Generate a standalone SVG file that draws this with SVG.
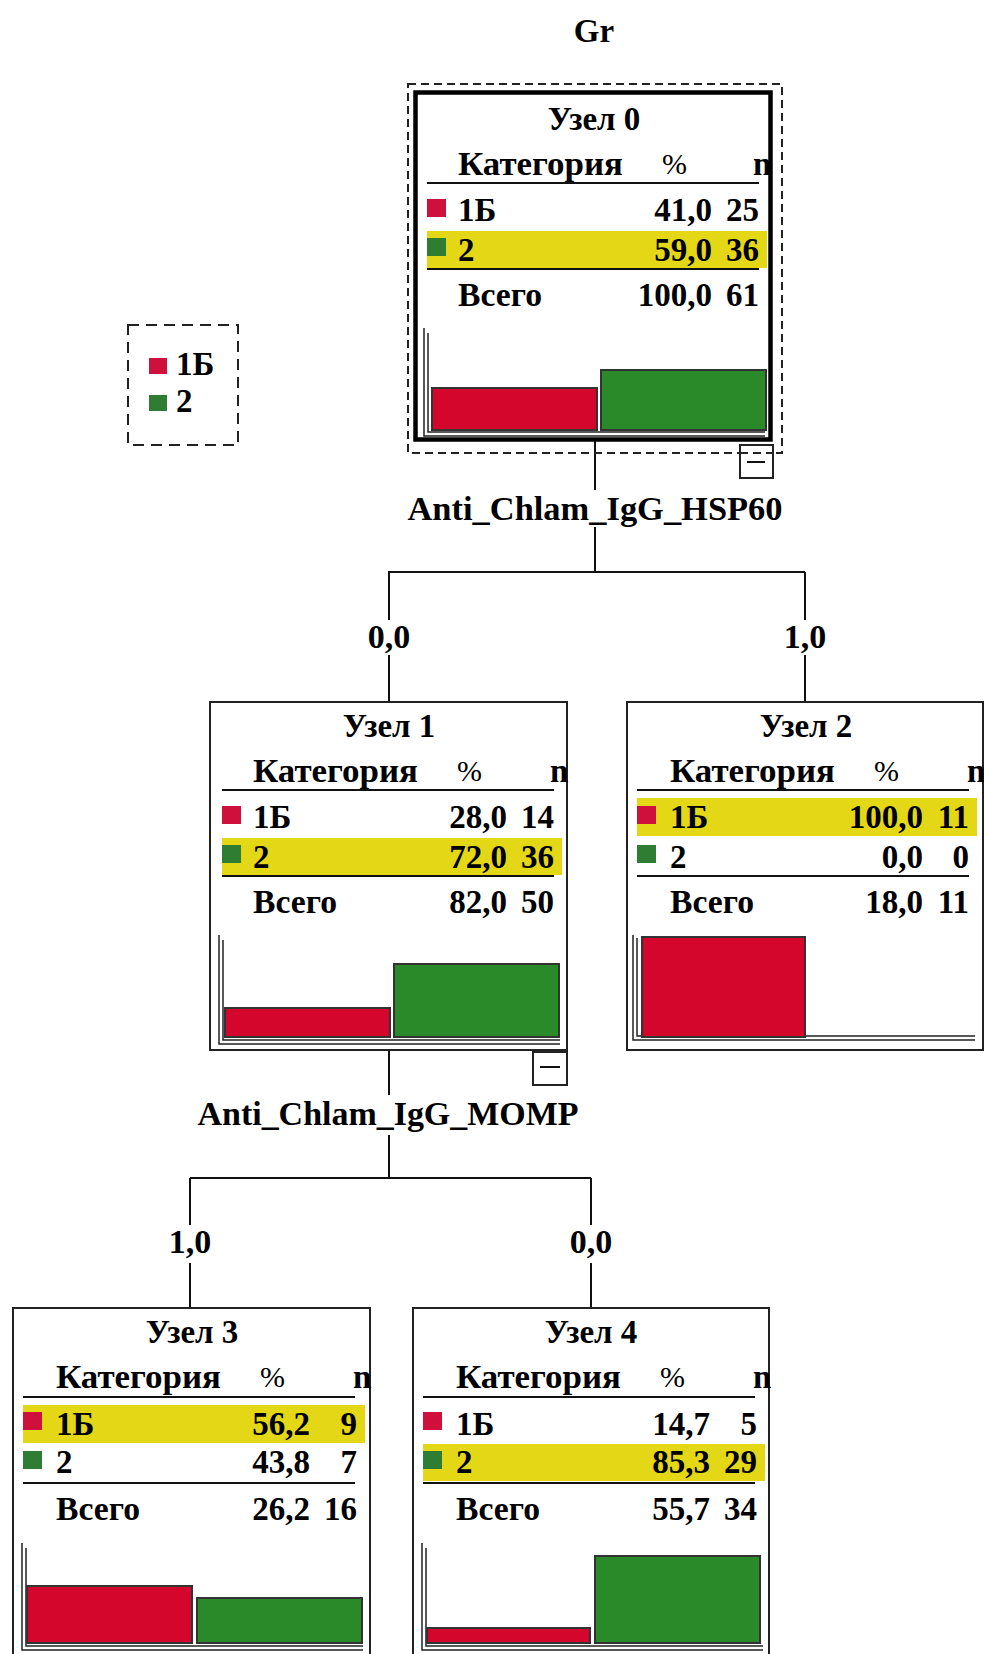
<svg xmlns="http://www.w3.org/2000/svg" width="984" height="1654" viewBox="0 0 984 1654">
<style>
text{font-family:"Liberation Serif","Times New Roman",serif;font-weight:bold;fill:#000;font-size:33px}
.lbl{font-size:34px}
.mid{text-anchor:middle}
.end{text-anchor:end}
.pc{font-weight:normal;font-size:30px}
.box{fill:#fff;stroke:#222;stroke-width:2}
.rule{stroke:#111;stroke-width:2}
.band{fill:#e4d816}
.sqr{fill:#d0103c}
.sqg{fill:#2e7d32}
.barr{fill:#d4062c;stroke:#333;stroke-width:2}
.barg{fill:#2a8a2a;stroke:#333;stroke-width:2}
.frame{fill:none;stroke:#222;stroke-width:1.5}
.conn{fill:none;stroke:#111;stroke-width:2}
.dash{fill:none;stroke:#222;stroke-width:2;stroke-dasharray:8 5}
.ldash{fill:none;stroke:#222;stroke-width:2;stroke-dasharray:11 7}
.btn{fill:#fff;stroke:#222;stroke-width:2}
</style>
<rect width="984" height="1654" fill="#fff"/>
<text x="594" y="42" class="mid">Gr</text>

<g id="legend">
<rect x="128" y="325" width="110" height="120" class="ldash"/>
<rect x="149" y="358" width="18" height="16" class="sqr"/>
<text x="176" y="375" font-size="31">1Б</text>
<rect x="149" y="395" width="18" height="16" class="sqg"/>
<text x="176" y="412" font-size="31">2</text>
</g>

<g id="connectors">
<path class="conn" d="M595,440V490M595,527V572M388,572H805M389,572V620M389,655V702M805,572V620M805,655V702"/>
<path class="conn" d="M389,1050V1095M389,1135V1178M190,1178H591M190,1178V1225M190,1263V1308M591,1178V1225M591,1263V1308"/>
<text x="595" y="520" class="lbl mid" textLength="375" lengthAdjust="spacingAndGlyphs">Anti_Chlam_IgG_HSP60</text>
<text x="389" y="648" class="lbl mid">0,0</text>
<text x="805" y="648" class="lbl mid">1,0</text>
<text x="388" y="1125" class="lbl mid" textLength="381" lengthAdjust="spacingAndGlyphs">Anti_Chlam_IgG_MOMP</text>
<text x="190" y="1253" class="lbl mid">1,0</text>
<text x="591" y="1253" class="lbl mid">0,0</text>
</g>

<g id="node0" transform="translate(415,95)">
<rect x="0.5" y="-2.5" width="355" height="347" fill="#fff" stroke="#000" stroke-width="4.5"/>
<text x="179" y="35" class="mid">Узел 0</text>
<text x="43" y="80" textLength="165" lengthAdjust="spacingAndGlyphs">Категория</text>
<text x="247" y="79" class="pc">%</text>
<text x="338" y="80">n</text>
<line x1="12" y1="88" x2="344" y2="88" class="rule"/>
<rect x="12" y="136" width="340" height="37" class="band"/>
<rect x="12" y="104" width="19" height="18" class="sqr"/>
<text x="43" y="126">1Б</text><text x="297" y="126" class="end">41,0</text><text x="344" y="126" class="end">25</text>
<rect x="12" y="143" width="19" height="18" class="sqg"/>
<text x="43" y="166">2</text><text x="297" y="166" class="end">59,0</text><text x="344" y="166" class="end">36</text>
<line x1="12" y1="174" x2="344" y2="174" class="rule"/>
<text x="43" y="211" textLength="84" lengthAdjust="spacingAndGlyphs">Всего</text><text x="297" y="211" class="end">100,0</text><text x="344" y="211" class="end">61</text>
<path class="frame" d="M9,233V341H350M13,238V337H350"/>
<rect x="17" y="293" width="165" height="42" class="barr"/>
<rect x="186" y="275" width="165" height="60" class="barg"/>
<rect x="-7" y="-11" width="374" height="369" class="dash"/>
<rect x="325" y="350" width="33" height="33" class="btn"/>
<line x1="332" y1="367" x2="350" y2="367" class="rule"/>
<line x1="325" y1="358" x2="358" y2="358" class="dash"/>
</g>

<g id="node1" transform="translate(210,702)">
<rect x="0" y="0" width="357" height="348" class="box"/>
<text x="179" y="35" class="mid">Узел 1</text>
<text x="43" y="80" textLength="165" lengthAdjust="spacingAndGlyphs">Категория</text>
<text x="247" y="79" class="pc">%</text>
<text x="340" y="80">n</text>
<line x1="12" y1="88" x2="344" y2="88" class="rule"/>
<rect x="12" y="136" width="340" height="37" class="band"/>
<rect x="12" y="104" width="19" height="18" class="sqr"/>
<text x="43" y="126">1Б</text><text x="297" y="126" class="end">28,0</text><text x="344" y="126" class="end">14</text>
<rect x="12" y="143" width="19" height="18" class="sqg"/>
<text x="43" y="166">2</text><text x="297" y="166" class="end">72,0</text><text x="344" y="166" class="end">36</text>
<line x1="12" y1="174" x2="344" y2="174" class="rule"/>
<text x="43" y="211" textLength="84" lengthAdjust="spacingAndGlyphs">Всего</text><text x="297" y="211" class="end">82,0</text><text x="344" y="211" class="end">50</text>
<path class="frame" d="M9,233V342H350M13,238V338H350"/>
<rect x="15" y="306" width="165" height="29" class="barr"/>
<rect x="184" y="262" width="165" height="73" class="barg"/>
<rect x="323" y="350" width="34" height="33" class="btn"/>
<line x1="330" y1="365" x2="350" y2="365" class="rule"/>
</g>

<g id="node2" transform="translate(627,702)">
<rect x="0" y="0" width="356" height="348" class="box"/>
<text x="179" y="35" class="mid">Узел 2</text>
<text x="43" y="80" textLength="165" lengthAdjust="spacingAndGlyphs">Категория</text>
<text x="247" y="79" class="pc">%</text>
<text x="340" y="80">n</text>
<line x1="10" y1="88" x2="342" y2="88" class="rule"/>
<rect x="10" y="96" width="340" height="38" class="band"/>
<rect x="10" y="104" width="19" height="18" class="sqr"/>
<text x="43" y="126">1Б</text><text x="296" y="126" class="end">100,0</text><text x="342" y="126" class="end">11</text>
<rect x="10" y="143" width="19" height="18" class="sqg"/>
<text x="43" y="166">2</text><text x="296" y="166" class="end">0,0</text><text x="342" y="166" class="end">0</text>
<line x1="10" y1="174" x2="342" y2="174" class="rule"/>
<text x="43" y="211" textLength="84" lengthAdjust="spacingAndGlyphs">Всего</text><text x="296" y="211" class="end">18,0</text><text x="342" y="211" class="end">11</text>
<path class="frame" d="M6,233V338H348M10,236V334H348"/>
<rect x="15" y="235" width="163" height="100" class="barr"/>
</g>

<g id="node3" transform="translate(13,1308)">
<rect x="0" y="0" width="357" height="348" class="box"/>
<text x="179" y="35" class="mid">Узел 3</text>
<text x="43" y="80" textLength="165" lengthAdjust="spacingAndGlyphs">Категория</text>
<text x="247" y="79" class="pc">%</text>
<text x="340" y="80">n</text>
<line x1="10" y1="89" x2="342" y2="89" class="rule"/>
<rect x="10" y="97" width="342" height="38" class="band"/>
<rect x="10" y="104" width="19" height="18" class="sqr"/>
<text x="43" y="127">1Б</text><text x="297" y="127" class="end">56,2</text><text x="344" y="127" class="end">9</text>
<rect x="10" y="143" width="19" height="18" class="sqg"/>
<text x="43" y="165">2</text><text x="297" y="165" class="end">43,8</text><text x="344" y="165" class="end">7</text>
<line x1="10" y1="175" x2="342" y2="175" class="rule"/>
<text x="43" y="212" textLength="84" lengthAdjust="spacingAndGlyphs">Всего</text><text x="297" y="212" class="end">26,2</text><text x="344" y="212" class="end">16</text>
<path class="frame" d="M9,235V342H350M13,240V338H350"/>
<rect x="14" y="278" width="165" height="57" class="barr"/>
<rect x="184" y="290" width="165" height="45" class="barg"/>
</g>

<g id="node4" transform="translate(413,1308)">
<rect x="0" y="0" width="356" height="348" class="box"/>
<text x="178" y="35" class="mid">Узел 4</text>
<text x="43" y="80" textLength="165" lengthAdjust="spacingAndGlyphs">Категория</text>
<text x="247" y="79" class="pc">%</text>
<text x="340" y="80">n</text>
<line x1="10" y1="89" x2="342" y2="89" class="rule"/>
<rect x="10" y="136" width="342" height="37" class="band"/>
<rect x="10" y="104" width="19" height="18" class="sqr"/>
<text x="43" y="127">1Б</text><text x="297" y="127" class="end">14,7</text><text x="344" y="127" class="end">5</text>
<rect x="10" y="143" width="19" height="18" class="sqg"/>
<text x="43" y="165">2</text><text x="297" y="165" class="end">85,3</text><text x="344" y="165" class="end">29</text>
<line x1="10" y1="175" x2="342" y2="175" class="rule"/>
<text x="43" y="212" textLength="84" lengthAdjust="spacingAndGlyphs">Всего</text><text x="297" y="212" class="end">55,7</text><text x="344" y="212" class="end">34</text>
<path class="frame" d="M9,235V342H350M13,240V338H350"/>
<rect x="14" y="320" width="163" height="15" class="barr"/>
<rect x="182" y="248" width="165" height="87" class="barg"/>
</g>
</svg>
